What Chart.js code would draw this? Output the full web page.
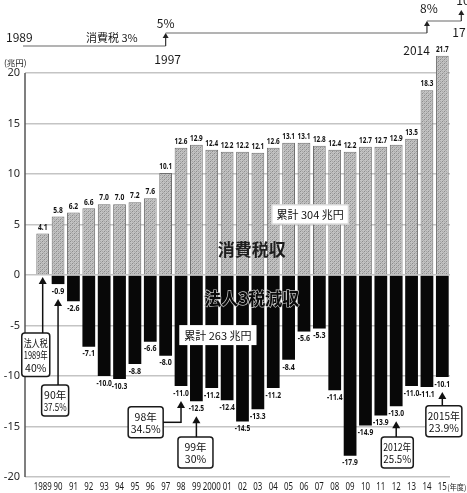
<!DOCTYPE html>
<html>
<head>
<meta charset="utf-8">
<script src="https://cdn.jsdelivr.net/npm/chart.js@4.4.1/dist/chart.umd.min.js"></script>
<style>
  html, body { margin: 0; padding: 0; background: #fff; }
  #wrap { width: 467px; height: 493px; }
</style>
</head>
<body>
<div id="wrap"><canvas id="c" width="467" height="493"></canvas></div>
<script>
// Fiscal years (short labels as printed under the axis)
const years = ['1989','90','91','92','93','94','95','96','97','98','99','2000','01','02','03','04','05','06','07','08','09','10','11','12','13','14','15'];
// Consumption tax revenue (trillion yen)
const consumptionTax = [4.1,5.8,6.2,6.6,7.0,7.0,7.2,7.6,10.1,12.6,12.9,12.4,12.2,12.2,12.1,12.6,13.1,13.1,12.8,12.4,12.2,12.7,12.7,12.9,13.5,18.3,21.7];
// Revenue lost from the three corporate taxes vs. 1989 (trillion yen)
const corporateTaxCut = [null,-0.9,-2.6,-7.1,-10.0,-10.3,-8.8,-6.6,-8.0,-11.0,-12.5,-11.2,-12.4,-14.5,-13.3,-11.2,-8.4,-5.6,-5.3,-11.4,-17.9,-14.9,-13.9,-13.0,-11.0,-11.1,-10.1];
// Consumption tax rate steps
const rateYears = ['1989','1997','2014','17'];
const rateLabels = ['消費税 3%','5%','8%','10%'];
// Corporate tax rate call-outs
const noteYears = ['1989','90','98','99','12','15'];
const noteTexts = [['法人税','1989年','40%'],['90年','37.5%'],['98年','34.5%'],['99年','30%'],['2012年','25.5%'],['2015年','23.9%']];

const FONT_JP = "'Noto Sans CJK JP', 'Noto Sans', sans-serif";
const FONT_LAT = "'Noto Sans', 'Noto Sans CJK JP', sans-serif";
const AXIS_X = 25;

// stippled grey fill for the consumption-tax bars
function makeStipple() {
  const c = document.createElement('canvas');
  c.width = 4; c.height = 4;
  const g = c.getContext('2d');
  g.fillStyle = '#c2c2c2'; g.fillRect(0, 0, 4, 4);
  g.fillStyle = '#8c8c8c';
  for (let i = 0; i < 4; i++) g.fillRect(i, (3 - i), 1, 1);
  g.fillStyle = '#a8a8a8';
  for (let i = 0; i < 4; i++) g.fillRect(i, (i + 1) % 4, 1, 1);
  return g.createPattern(c, 'repeat');
}

function roundRect(ctx, x, y, w, h, r) {
  ctx.beginPath();
  ctx.moveTo(x + r, y);
  ctx.arcTo(x + w, y, x + w, y + h, r);
  ctx.arcTo(x + w, y + h, x, y + h, r);
  ctx.arcTo(x, y + h, x, y, r);
  ctx.arcTo(x, y, x + w, y, r);
  ctx.closePath();
}

function arrowUp(ctx, x, yFrom, yTip, hw, hh) {
  ctx.beginPath();
  ctx.moveTo(x, yFrom);
  ctx.lineTo(x, yTip + hh - 1);
  ctx.stroke();
  ctx.beginPath();
  ctx.moveTo(x, yTip);
  ctx.lineTo(x - hw, yTip + hh);
  ctx.lineTo(x + hw, yTip + hh);
  ctx.closePath();
  ctx.fill();
}

// text squeezed to a condensed width
function narrowText(ctx, t, x, y, perChar) {
  const natural = ctx.measureText(t).width;
  ctx.fillText(t, x, y, Math.min(natural, t.length * perChar));
}

function noteBox(ctx, cx, top, w, lines) {
  const lh = 12.5;
  const h = lines.length * lh + 6;
  const x = cx - w / 2;
  roundRect(ctx, x, top, w, h, 3);
  ctx.fillStyle = '#fff';
  ctx.fill();
  ctx.lineWidth = 1.5;
  ctx.strokeStyle = '#1a1a1a';
  ctx.stroke();
  ctx.fillStyle = '#111';
  ctx.font = "10.5px " + FONT_JP;
  ctx.textAlign = 'center';
  ctx.textBaseline = 'middle';
  lines.forEach((t, k) => ctx.fillText(t, cx, top + 3 + lh * (k + 0.5) + 0.5, w - 4));
  return { x, y: top, w, h };
}

function sumBox(ctx, cx, cy, text, border) {
  ctx.font = "11px " + FONT_JP;
  const w = ctx.measureText(text).width + 10;
  const h = 20;
  ctx.fillStyle = '#fff';
  ctx.fillRect(cx - w / 2, cy - h / 2, w, h);
  if (border) {
    ctx.lineWidth = 1;
    ctx.strokeStyle = border;
    ctx.strokeRect(cx - w / 2 + 0.5, cy - h / 2 + 0.5, w - 1, h - 1);
  }
  ctx.fillStyle = '#111';
  ctx.textAlign = 'center';
  ctx.textBaseline = 'middle';
  ctx.fillText(text, cx, cy + 0.5);
}

const valueLabels = {
  id: 'valueLabels',
  afterDatasetsDraw(chart) {
    const ctx = chart.ctx;
    ctx.save();
    ctx.font = "bold 8.5px " + FONT_LAT;
    ctx.fillStyle = '#111';
    ctx.textAlign = 'center';
    chart.data.datasets.forEach((ds, di) => {
      const meta = chart.getDatasetMeta(di);
      meta.data.forEach((bar, i) => {
        const v = ds.data[i];
        if (v == null) return;
        const t = v.toFixed(1);
        if (v >= 0) { ctx.textBaseline = 'bottom'; narrowText(ctx, t, bar.x, bar.y - 2, 3.2); }
        else { ctx.textBaseline = 'top'; narrowText(ctx, t, bar.x, bar.y + 3, 3.1); }
      });
    });
    ctx.restore();
  }
};

const overlay = {
  id: 'overlay',
  afterDraw(chart) {
    const ctx = chart.ctx;
    const xs = chart.scales.x, ys = chart.scales.y;
    const area = chart.chartArea;
    const xi = y => xs.getPixelForValue(years.indexOf(y));
    ctx.save();

    // y axis line
    ctx.strokeStyle = '#555';
    ctx.lineWidth = 1.5;
    ctx.beginPath();
    ctx.moveTo(AXIS_X, area.top);
    ctx.lineTo(AXIS_X, area.bottom);
    ctx.stroke();

    // year labels under the axis, condensed
    ctx.fillStyle = '#1a1a1a';
    ctx.font = "10px " + FONT_LAT;
    ctx.textAlign = 'center';
    ctx.textBaseline = 'middle';
    years.forEach((y, i) => narrowText(ctx, y, xs.getPixelForValue(i), area.bottom + 10, 4.5));
    ctx.textAlign = 'left';
    ctx.font = "8px " + FONT_JP;
    ctx.fillText('(年度)', xs.getPixelForValue(years.length - 1) + 5, area.bottom + 10, 19);

    // unit
    ctx.fillStyle = '#222';
    ctx.font = "8.5px " + FONT_JP;
    ctx.textAlign = 'left';
    ctx.textBaseline = 'alphabetic';
    ctx.fillText('(兆円)', 4, area.top - 7);

    // consumption tax rate steps
    const xA = AXIS_X - 2, xB = xi('97'), xC = xi('14'), xD = xs.getPixelForValue(years.length - 1) + 19;
    const yA = area.top - 27, yB = area.top - 40, yC = area.top - 52, yD = area.top - 63;
    ctx.strokeStyle = '#9a9a9a';
    ctx.lineWidth = 1.6;
    ctx.beginPath();
    ctx.moveTo(xA, yA); ctx.lineTo(xB, yA);
    ctx.moveTo(xB, yB); ctx.lineTo(xC, yB);
    ctx.moveTo(xC, yC); ctx.lineTo(xD, yC);
    ctx.stroke();
    ctx.strokeStyle = '#333'; ctx.fillStyle = '#222'; ctx.lineWidth = 1.2;
    arrowUp(ctx, xB, yA, yB, 3, 5);
    arrowUp(ctx, xC, yB, yC, 3, 5);
    arrowUp(ctx, xD, yC, yD, 3, 5);

    ctx.fillStyle = '#1a1a1a';
    ctx.font = "12px " + FONT_JP;
    ctx.textBaseline = 'alphabetic';
    ctx.textAlign = 'left';
    ctx.fillText(rateYears[0], 6, yA - 4);
    ctx.font = "11px " + FONT_JP;
    ctx.fillText(rateLabels[0], 86, yA - 4);
    ctx.font = "12px " + FONT_JP;
    ctx.textAlign = 'center';
    ctx.fillText(rateLabels[1], xB, yB - 5);
    ctx.fillText(rateYears[1], xB + 2, area.top - 9);
    ctx.fillText(rateLabels[2], xC + 2, yC - 8);
    ctx.textAlign = 'right';
    ctx.fillText(rateYears[2], xC + 3, area.top - 18);
    ctx.textAlign = 'left';
    ctx.fillText(rateYears[3], xD - 9, yB + 4);
    ctx.fillText(rateLabels[3], xD - 5, yD - 5);

    // section titles
    const cTitle = xs.getPixelForValue(13.6);
    ctx.textAlign = 'center';
    ctx.textBaseline = 'middle';
    ctx.font = "bold 17px " + FONT_JP;
    ctx.fillStyle = '#1e1e1e';
    ctx.fillText('消費税収', cTitle, ys.getPixelForValue(2.5));
    ctx.lineWidth = 1.3;
    ctx.strokeStyle = '#c8c8c8';
    ctx.strokeText('法人3税減収', cTitle, ys.getPixelForValue(-2.3));
    ctx.fillStyle = '#0a0a0a';
    ctx.fillText('法人3税減収', cTitle, ys.getPixelForValue(-2.3));

    // cumulative totals
    const sum = a => a.reduce((s, v) => s + (v || 0), 0);
    sumBox(ctx, xs.getPixelForValue(17.4), ys.getPixelForValue(6.0), '累計 ' + Math.round(sum(consumptionTax)) + ' 兆円', '#d0d0d0');
    sumBox(ctx, xs.getPixelForValue(11.4), ys.getPixelForValue(-5.95), '累計 ' + Math.round(Math.abs(sum(corporateTaxCut))) + ' 兆円', null);

    // corporate tax rate call-outs
    const place = [
      { dx: -0.45, top: -5.75, w: 28 },
      { dx: -0.19, top: -10.9, w: 27 },
      { dx: -2.3,  top: -13.05, w: 35, side: true },
      { dx: -0.06, top: -16.05, w: 35 },
      { dx: 0.07,  top: -16.05, w: 32 },
      { dx: 0.1,   top: -12.95, w: 36 }
    ];
    noteYears.forEach((yr, k) => {
      const i = years.indexOf(yr);
      const p = place[k];
      const bx = xs.getPixelForValue(i);
      const v = corporateTaxCut[i];
      const tip = v == null ? ys.getPixelForValue(0) + 2 : ys.getPixelForValue(v) + 15;
      const box = noteBox(ctx, xs.getPixelForValue(i + p.dx), ys.getPixelForValue(p.top), p.w, noteTexts[k]);
      ctx.strokeStyle = '#111'; ctx.fillStyle = '#111'; ctx.lineWidth = 1.5;
      if (p.side) {
        const my = box.y + box.h / 2;
        ctx.beginPath();
        ctx.moveTo(box.x + box.w, my);
        ctx.lineTo(bx, my);
        ctx.stroke();
        arrowUp(ctx, bx, my + 0.75, tip, 4, 7);
      } else {
        arrowUp(ctx, bx, box.y, tip, 4, 7);
      }
    });

    ctx.restore();
  }
};

new Chart(document.getElementById('c'), {
  type: 'bar',
  data: {
    labels: years,
    datasets: [
      {
        label: '消費税収',
        data: consumptionTax,
        backgroundColor: makeStipple(),
        borderColor: '#6e6e6e',
        borderWidth: 1,
        barPercentage: 0.83,
        categoryPercentage: 1,
        clip: false
      },
      {
        label: '法人3税減収',
        data: corporateTaxCut,
        backgroundColor: '#080808',
        borderWidth: 0,
        barPercentage: 0.83,
        categoryPercentage: 1,
        clip: false
      }
    ]
  },
  options: {
    responsive: false,
    animation: false,
    devicePixelRatio: 1,
    events: [],
    layout: { padding: { top: 73, right: 17, bottom: 0, left: 0 } },
    plugins: { legend: { display: false }, tooltip: { enabled: false } },
    scales: {
      x: {
        stacked: true,
        grid: { display: false },
        border: { display: false },
        ticks: { display: false },
        afterFit(s) { s.height = 16; }
      },
      y: {
        stacked: true,
        min: -20, max: 20,
        grid: { color: '#c4c4c4', lineWidth: 1.5, tickLength: 10, drawTicks: true },
        border: { display: false },
        ticks: {
          stepSize: 5, padding: 5,
          color: '#2a2a2a',
          font: { family: FONT_LAT, size: 11 }
        },
        afterFit(s) { s.width = 35; }
      }
    }
  },
  plugins: [valueLabels, overlay]
});
</script>
</body>
</html>
